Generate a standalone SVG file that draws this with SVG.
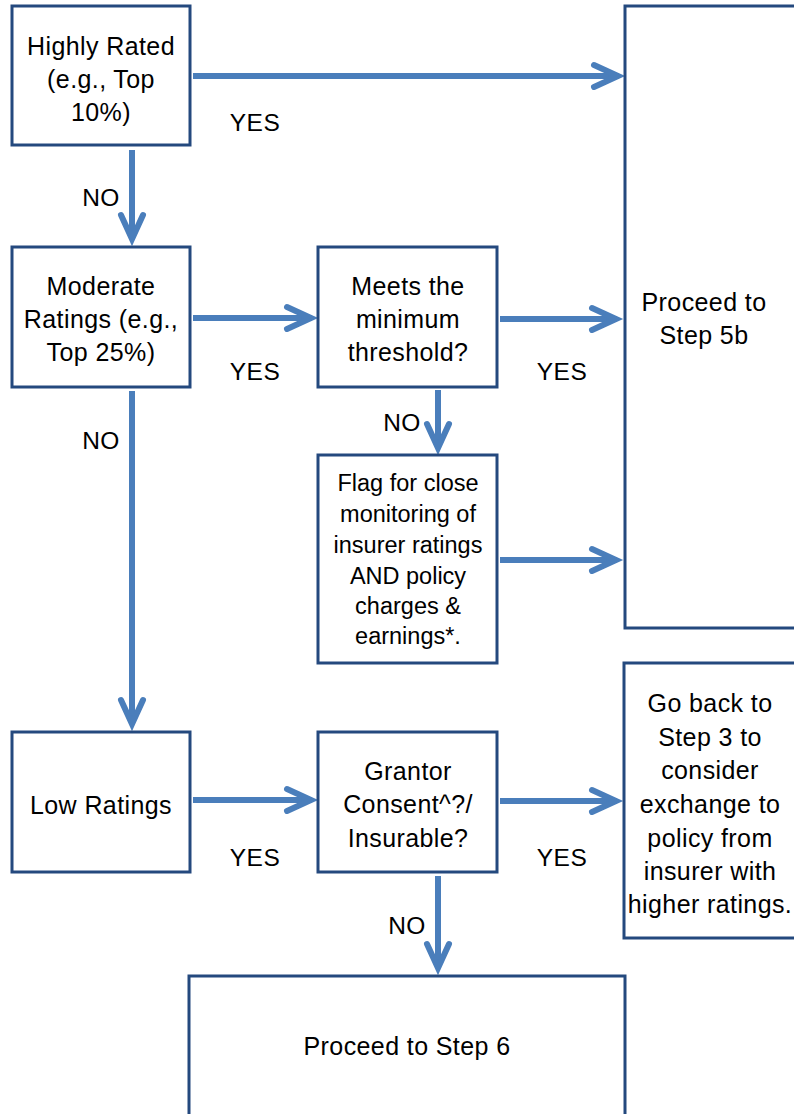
<svg xmlns="http://www.w3.org/2000/svg" width="794" height="1114" viewBox="0 0 794 1114">
  <style>
    .box { fill: #ffffff; stroke: #24497E; stroke-width: 3; }
    .t { font-family: "Liberation Sans", Arial, sans-serif; font-size: 25px; letter-spacing: 0.4px; fill: #000000; text-anchor: middle; }
    .s { font-size: 23.5px; letter-spacing: 0; }
    .lbl { font-family: "Liberation Sans", Arial, sans-serif; font-size: 24.5px; letter-spacing: 0.5px; fill: #000000; text-anchor: middle; }
    .conn { fill: none; stroke: #4A7EBB; stroke-width: 6; marker-end: url(#head); }
  </style>
  <defs>
    <marker id="head" markerUnits="userSpaceOnUse" viewBox="-32 -18 44 36" markerWidth="44" markerHeight="36" refX="0" refY="0" orient="auto" overflow="visible">
      <path d="M -24 -11 L 0 0 L -24 11" fill="none" stroke="#4A7EBB" stroke-width="6" stroke-linecap="round" stroke-linejoin="miter" stroke-miterlimit="6"/>
    </marker>
  </defs>

  <rect width="794" height="1114" fill="#ffffff"/>

  <!-- connectors -->
  <g id="connectors">
    <path class="conn" d="M 193 76 L 618 76"/>
    <path class="conn" d="M 132 150 L 132 239"/>
    <path class="conn" d="M 193 318 L 311 318"/>
    <path class="conn" d="M 500 319 L 616 319"/>
    <path class="conn" d="M 132 391 L 132 724"/>
    <path class="conn" d="M 438 390 L 438 448"/>
    <path class="conn" d="M 500 560 L 616 560"/>
    <path class="conn" d="M 193 800 L 311 800"/>
    <path class="conn" d="M 500 801 L 616 801"/>
    <path class="conn" d="M 438 876 L 438 968"/>
  </g>

  <!-- branch labels -->
  <g id="labels">
    <text class="lbl" x="255" y="131">YES</text>
    <text class="lbl" x="101" y="206">NO</text>
    <text class="lbl" x="255" y="380">YES</text>
    <text class="lbl" x="562" y="380">YES</text>
    <text class="lbl" x="101" y="449">NO</text>
    <text class="lbl" x="402" y="431">NO</text>
    <text class="lbl" x="255" y="866">YES</text>
    <text class="lbl" x="562" y="866">YES</text>
    <text class="lbl" x="407" y="934">NO</text>
  </g>

  <g id="highly-rated">
    <rect class="box" x="12" y="6" width="178" height="139"/>
    <text class="t" x="101" y="55">Highly Rated</text>
    <text class="t" x="101" y="88">(e.g., Top</text>
    <text class="t" x="101" y="121">10%)</text>
  </g>

  <g id="moderate-ratings">
    <rect class="box" x="12" y="247" width="178" height="140"/>
    <text class="t" x="101" y="295">Moderate</text>
    <text class="t" x="101" y="328">Ratings (e.g.,</text>
    <text class="t" x="101" y="361">Top 25%)</text>
  </g>

  <g id="min-threshold">
    <rect class="box" x="318" y="247" width="179" height="140"/>
    <text class="t" x="408" y="295">Meets the</text>
    <text class="t" x="408" y="328">minimum</text>
    <text class="t" x="408" y="361">threshold?</text>
  </g>

  <g id="step-5b">
    <rect class="box" x="625" y="6" width="200" height="622"/>
    <text class="t" x="704" y="311">Proceed to</text>
    <text class="t" x="704" y="344">Step 5b</text>
  </g>

  <g id="flag-monitoring">
    <rect class="box" x="318" y="455" width="179" height="208"/>
    <text class="t s" x="408" y="491">Flag for close</text>
    <text class="t s" x="408" y="522">monitoring of</text>
    <text class="t s" x="408" y="553">insurer ratings</text>
    <text class="t s" x="408" y="584">AND policy</text>
    <text class="t s" x="408" y="614">charges &amp;</text>
    <text class="t s" x="408" y="644">earnings*.</text>
  </g>

  <g id="low-ratings">
    <rect class="box" x="12" y="732" width="178" height="140"/>
    <text class="t" x="101" y="814">Low Ratings</text>
  </g>

  <g id="grantor-consent">
    <rect class="box" x="318" y="732" width="179" height="140"/>
    <text class="t" x="408" y="780">Grantor</text>
    <text class="t" x="408" y="813">Consent^?/</text>
    <text class="t" x="408" y="847">Insurable?</text>
  </g>

  <g id="go-back-step-3">
    <rect class="box" x="624" y="663" width="200" height="275"/>
    <text class="t" x="710" y="712">Go back to</text>
    <text class="t" x="710" y="746">Step 3 to</text>
    <text class="t" x="710" y="779">consider</text>
    <text class="t" x="710" y="813">exchange to</text>
    <text class="t" x="710" y="847">policy from</text>
    <text class="t" x="710" y="880">insurer with</text>
    <text class="t" x="710" y="913">higher ratings.</text>
  </g>

  <g id="step-6">
    <rect class="box" x="189" y="976" width="436" height="160"/>
    <text class="t" x="407" y="1055">Proceed to Step 6</text>
  </g>
</svg>
